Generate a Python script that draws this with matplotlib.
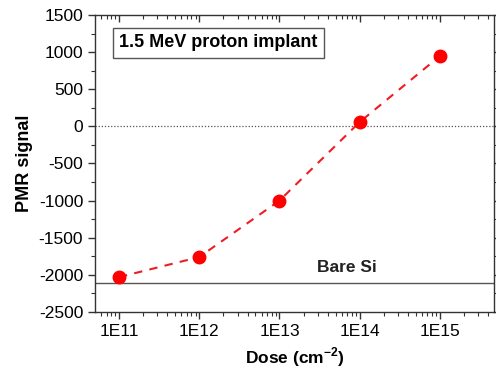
import numpy as np
from matplotlib import pyplot as plt
from matplotlib import rc
from matplotlib.ticker import FixedLocator, LogLocator, NullFormatter, MultipleLocator

rc('font', family=['Liberation Sans', 'DejaVu Sans'])
rc('axes', unicode_minus=False)

dose = [1e11, 1e12, 1e13, 1e14, 1e15]
pmr = [-2030, -1760, -1000, 58, 947]
dose_ticks = [1e11, 1e12, 1e13, 1e14, 1e15]
dose_labels = ['1E11', '1E12', '1E13', '1E14', '1E15']
bare_si = -2105

fig = plt.figure(figsize=(4.96, 3.72), dpi=100)
ax = fig.add_axes([0.1915, 0.1613, 0.8045, 0.7984])

ax.axhline(0, color='#555555', ls=(0, (1, 1.5)), lw=0.9)
ax.axhline(bare_si, color='#555555', lw=1.0)
ax.plot(dose, pmr, color='#ee1c25', ls=(0, (4, 3.5)), lw=1.5,
        marker='o', ms=9, mfc='red', mec='red')

ax.set_xscale('log')
ax.set_xlim(10**10.7, 10**15.675)
ax.set_ylim(-2500, 1500)
ax.xaxis.set_major_locator(FixedLocator(dose_ticks))
ax.set_xticks(dose_ticks, dose_labels)
ax.xaxis.set_minor_locator(LogLocator(base=10, subs=np.arange(2, 10)))
ax.xaxis.set_minor_formatter(NullFormatter())
ax.yaxis.set_major_locator(MultipleLocator(500))
ax.yaxis.set_minor_locator(MultipleLocator(250))

ax.tick_params(which='both', direction='out', labelsize=12.5, color='#333333')
ax.tick_params(which='major', length=5, width=1)
ax.tick_params(which='minor', length=3, width=0.8)
ax.tick_params(axis='x', which='both', top=True)
ax.tick_params(axis='y', which='both', right=True)
for t in ax.xaxis.get_ticklines(minor=True)[1::2] + ax.xaxis.get_ticklines()[1::2]:
    t.set_marker(3)
for t in ax.yaxis.get_ticklines(minor=True)[1::2] + ax.yaxis.get_ticklines()[1::2]:
    t.set_marker(1)
for s in ax.spines.values():
    s.set_color('#333333')
    s.set_linewidth(1.0)

ax.set_xlabel('Dose (cm$^{\\mathregular{-2}}$)', fontsize=12.5, fontweight='bold', labelpad=5)
ax.set_ylabel('PMR signal', fontsize=13, fontweight='bold', labelpad=4)

ax.text(0.06, 0.935, '1.5 MeV proton implant', transform=ax.transAxes,
        fontsize=13, fontweight='bold', va='top', ha='left',
        bbox=dict(boxstyle='square,pad=0.35', fc='white', ec='#555555', lw=1.0))
ax.text(10**13.84, -1900, 'Bare Si', fontsize=12.5, fontweight='bold',
        ha='center', va='center', color='#222222')

fig.savefig('out.png', dpi=100)
